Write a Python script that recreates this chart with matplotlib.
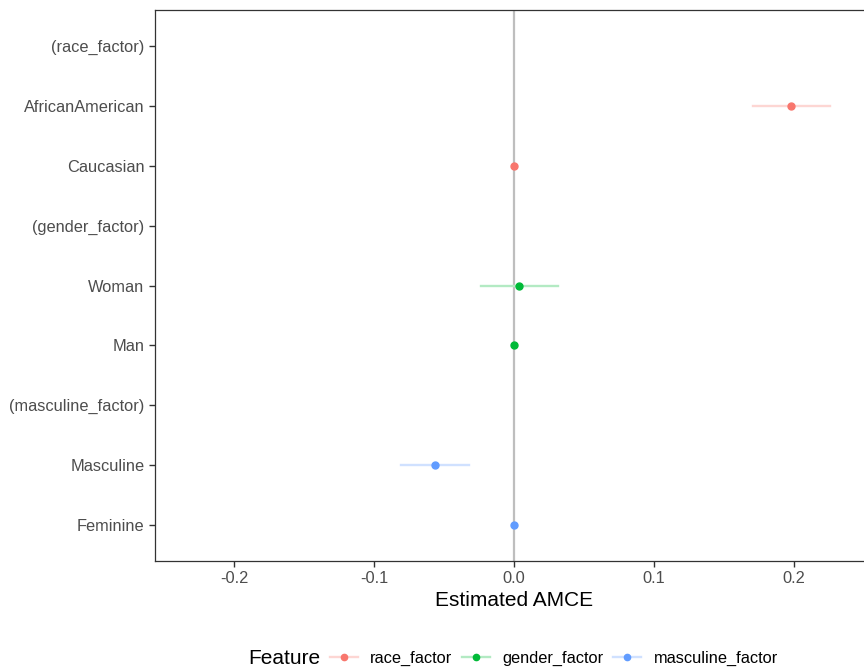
import matplotlib.pyplot as plt
import matplotlib.colors as mcolors
from matplotlib.lines import Line2D
import numpy as np

plt.rcParams['font.family'] = ['Liberation Sans', 'DejaVu Sans']

# rows from top to bottom
labels = ['(race_factor)', 'AfricanAmerican', 'Caucasian',
          '(gender_factor)', 'Woman', 'Man',
          '(masculine_factor)', 'Masculine', 'Feminine']
features = ['race_factor', 'race_factor', 'race_factor',
            'gender_factor', 'gender_factor', 'gender_factor',
            'masculine_factor', 'masculine_factor', 'masculine_factor']
est = [np.nan, 0.198, 0.0, np.nan, 0.0036, 0.0, np.nan, -0.0565, 0.0]
lower = [np.nan, 0.171, 0.0, np.nan, -0.0236, 0.0, np.nan, -0.081, 0.0]
upper = [np.nan, 0.226, 0.0, np.nan, 0.0314, 0.0, np.nan, -0.032, 0.0]

feat_names = ['race_factor', 'gender_factor', 'masculine_factor']
feat_colors = ['#F8766D', '#00BA38', '#619CFF']

def light(c, a=0.3):
    r = np.array(mcolors.to_rgb(c))
    return tuple(a * r + (1 - a))

fig = plt.figure(figsize=(8.64, 6.68), dpi=100)
ax = fig.add_axes([155/864, 107/668, 718/864, 551/668])

n = len(labels)
ypos = np.arange(n)[::-1]

ax.axvline(0, color='#BEBEBE', lw=1.6, zorder=1)

for i in range(n):
    if np.isnan(est[i]):
        continue
    c = feat_colors[feat_names.index(features[i])]
    ax.plot([lower[i], upper[i]], [ypos[i], ypos[i]], color=light(c), lw=1.7, zorder=2)
    ax.plot(est[i], ypos[i], 'o', color=c, ms=5, zorder=3)

ax.set_xlim(-0.2564, 0.2564)
ax.set_ylim(-0.6, n - 1 + 0.6)
ax.set_yticks(ypos)
ax.set_yticklabels(labels)
ax.set_xticks([-0.2, -0.1, 0.0, 0.1, 0.2])
ax.set_xticklabels(['-0.2', '-0.1', '0.0', '0.1', '0.2'])
ax.tick_params(axis='both', colors='#333333', labelcolor='#4D4D4D',
               labelsize=11.8, length=4, width=1)
for s in ax.spines.values():
    s.set_color('#333333')
    s.set_linewidth(0.9)
ax.set_xlabel('Estimated AMCE', fontsize=15, color='black', labelpad=3)

fig.text(248/864, 1 - 658/668, 'Feature', fontsize=15, va='center', ha='left')
handles = [Line2D([0], [0], color=light(c), lw=1.7, marker='o', ms=4.5,
                  markerfacecolor=c, markeredgecolor=c) for c in feat_colors]
fig.legend(handles, feat_names, loc='center left', bbox_to_anchor=(330/864, 1 - 658/668),
           ncol=3, frameon=False, fontsize=11.8, handlelength=1.7,
           handletextpad=0.75, columnspacing=0.6, borderaxespad=0, borderpad=0)

fig.savefig('out.png', dpi=100)
